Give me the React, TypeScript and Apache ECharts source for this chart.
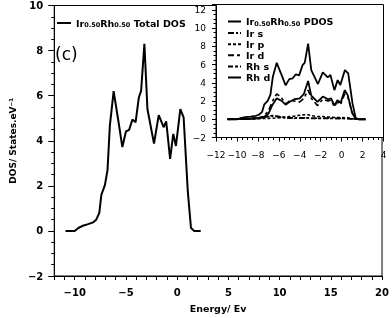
import React, { useEffect, useRef } from "react";
import * as echarts from "echarts";

// Main panel: total DOS
const energy = [-10.9, -10.0, -9.65, -9.2, -8.7, -8.2, -7.9, -7.6, -7.4, -7.05, -6.8, -6.57, -6.2, -5.72, -5.35, -5.0, -4.69, -4.37, -4.06, -3.74, -3.52, -3.2, -2.9, -2.26, -1.8, -1.32, -1.07, -0.69, -0.38, -0.12, 0.31, 0.63, 1.04, 1.35, 1.67, 2.3];
const totalDos = [0, 0, 0.13, 0.23, 0.3, 0.38, 0.5, 0.8, 1.6, 2.04, 2.7, 4.67, 6.2, 4.82, 3.72, 4.41, 4.48, 4.94, 4.82, 5.92, 6.21, 8.3, 5.4, 3.87, 5.14, 4.6, 4.86, 3.2, 4.3, 3.77, 5.4, 5.04, 1.74, 0.13, 0, 0];

// Inset: partial DOS
const pdosEnergy = [-10.9, -10, -9, -8, -7.5, -7, -6.6, -6.2, -5.7, -5.35, -5, -4.5, -4, -3.6, -3.2, -2.9, -2.3, -1.8, -1.3, -1.0, -0.7, -0.4, -0.1, 0.3, 0.6, 1.0, 1.35, 1.7, 2.3];
const irS = [0, 0.02, 0.08, 0.15, 0.2, 0.3, 0.35, 0.3, 0.2, 0.15, 0.15, 0.15, 0.15, 0.15, 0.15, 0.12, 0.12, 0.12, 0.12, 0.12, 0.1, 0.1, 0.1, 0.1, 0.08, 0.05, 0.02, 0, 0];
const irP = [0, 0, 0.02, 0.05, 0.08, 0.1, 0.12, 0.15, 0.2, 0.25, 0.3, 0.35, 0.45, 0.5, 0.5, 0.4, 0.3, 0.3, 0.25, 0.25, 0.2, 0.2, 0.2, 0.15, 0.15, 0.08, 0.02, 0, 0];
const irD = [0, 0.02, 0.05, 0.15, 0.3, 0.9, 2.0, 2.8, 2.3, 1.7, 2.0, 2.0, 1.9, 2.3, 3.2, 2.3, 1.5, 2.2, 2.0, 2.1, 1.4, 1.9, 1.6, 2.8, 2.4, 0.8, 0.05, 0, 0];
const rhS = [0, 0.01, 0.06, 0.12, 0.25, 0.35, 0.4, 0.35, 0.25, 0.15, 0.12, 0.12, 0.12, 0.12, 0.15, 0.1, 0.1, 0.1, 0.1, 0.1, 0.08, 0.08, 0.08, 0.08, 0.06, 0.04, 0.01, 0, 0];
const rhD = [0, 0.01, 0.03, 0.1, 0.2, 0.6, 1.6, 2.3, 2.0, 1.6, 1.9, 2.2, 2.3, 2.8, 4.2, 2.6, 1.9, 2.5, 2.2, 2.3, 1.5, 2.1, 1.8, 3.2, 2.6, 0.7, 0.05, 0, 0];

const mainXTickLabels = [-10, -5, 0, 5, 10, 15, 20];
const mainLegend = ["Total DOS"];
const insetLegend = ["PDOS", "Ir s", "Ir p", "Ir d", "Rh s", "Rh d"];

const FONT = "DejaVu Sans";
const zip = (xs: number[], ys: number[]) => xs.map((x, i) => [x, ys[i]]);
const minus = (v: number) => String(v).replace("-", "\u2212");

export default function App() {
  const ref = useRef<HTMLDivElement>(null);
  useEffect(() => {
    if (!ref.current) return;
    const chart = echarts.init(ref.current, undefined, { renderer: "svg" });
    const axisLine = { show: true, onZero: false, lineStyle: { color: "#000", width: 1 } };
    const boldLabel = { color: "#000", fontFamily: FONT, fontWeight: "bold" as const, fontSize: 10 };
    const plainLabel = { color: "#000", fontFamily: FONT, fontSize: 9 };
    const rich = {
      b: { fontFamily: FONT, fontWeight: "bold", fontSize: 9.5, color: "#000", lineHeight: 11 },
      s: { fontFamily: FONT, fontWeight: "bold", fontSize: 6.5, color: "#000", verticalAlign: "bottom", lineHeight: 11 },
    };
    const legendFmt = (name: string) => {
      if (name === "Total DOS") return "{b|Ir}{s|0.50}{b|Rh}{s|0.50}{b| Total DOS}";
      if (name === "PDOS") return "{b|Ir}{s|0.50}{b|Rh}{s|0.50}{b| PDOS}";
      return "{b|" + name + "}";
    };
    const insetLine = (name: string, ys: number[], dash: any, width = 1.6) => ({
      type: "line",
      name,
      xAxisIndex: 1,
      yAxisIndex: 1,
      data: zip(pdosEnergy, ys),
      symbol: "none",
      z: 5,
      lineStyle: { color: "#000", width, type: dash },
      itemStyle: { color: "#000" },
    });
    chart.setOption({
      animation: false,
      textStyle: { fontFamily: FONT },
      grid: [
        { left: 40, right: 8.5, top: 5.5, bottom: 39.5, show: true, borderColor: "#000", borderWidth: 1, backgroundColor: "transparent" },
        { left: 216, right: 8.5, top: 4.5, bottom: 180.5, show: true, borderColor: "#000", borderWidth: 1, backgroundColor: "#fff", z: 3 },
      ],
      xAxis: [
        {
          type: "value", gridIndex: 0, min: -12, max: 20, interval: 1,
          axisLine, splitLine: { show: false },
          axisTick: { show: true, length: 4, lineStyle: { color: "#000" } },
          axisLabel: { ...boldLabel, margin: 11, formatter: (v: number) => (mainXTickLabels.includes(v) ? minus(v) : "") },
          name: "Energy/ Ev", nameLocation: "middle", nameGap: 27,
          nameTextStyle: { ...boldLabel, fontSize: 9.5 },
        },
        {
          type: "value", gridIndex: 1, min: -12, max: 4, interval: 2, z: 4,
          axisLine, splitLine: { show: false },
          axisTick: { show: true, length: 4, lineStyle: { color: "#000" } },
          minorTick: { show: true, splitNumber: 4, length: 2.5, lineStyle: { color: "#000" } },
          axisLabel: { ...plainLabel, margin: 13, formatter: (v: number) => minus(v) },
        },
      ],
      yAxis: [
        {
          type: "value", gridIndex: 0, min: -2, max: 10, interval: 2,
          axisLine, splitLine: { show: false },
          axisTick: { show: true, length: 6, lineStyle: { color: "#000" } },
          minorTick: { show: true, splitNumber: 4, length: 3, lineStyle: { color: "#000" } },
          axisLabel: { ...boldLabel, margin: 11, formatter: (v: number) => minus(v) },
          name: "DOS/ States.eV\u207B\u00B9", nameLocation: "middle", nameGap: 27,
          nameTextStyle: { ...boldLabel, fontSize: 9 },
        },
        {
          type: "value", gridIndex: 1, min: -2, max: 12.6, interval: 2, z: 4,
          axisLine, splitLine: { show: false },
          axisTick: { show: true, length: 4, lineStyle: { color: "#000" } },
          minorTick: { show: true, splitNumber: 4, length: 2.5, lineStyle: { color: "#000" } },
          axisLabel: { ...plainLabel, margin: 10, showMaxLabel: false, formatter: (v: number) => minus(v) },
        },
      ],
      legend: [
        {
          data: mainLegend, left: 51, top: 13, itemWidth: 14, itemHeight: 8, selectedMode: false,
          itemStyle: { opacity: 0 },
          formatter: legendFmt, textStyle: { rich },
        },
        {
          data: insetLegend, left: 222, top: 11.5, orient: "vertical", itemWidth: 13, itemHeight: 8, itemGap: 1.1,
          itemStyle: { opacity: 0 },
          selectedMode: false, formatter: legendFmt, textStyle: { rich }, z: 6,
        },
      ],
      graphic: [
        { type: "text", left: 55, top: 45, style: { text: "(c)", fontSize: 17, fontFamily: FONT, fill: "#000" } },
      ],
      series: [
        {
          type: "line", name: "Total DOS", xAxisIndex: 0, yAxisIndex: 0,
          data: zip(energy, totalDos), symbol: "none",
          lineStyle: { color: "#000", width: 2 }, itemStyle: { color: "#000" },
        },
        {
          type: "line", name: "PDOS", xAxisIndex: 1, yAxisIndex: 1,
          data: zip(energy, totalDos), symbol: "none", z: 5,
          lineStyle: { color: "#000", width: 1.8 }, itemStyle: { color: "#000" },
        },
        insetLine("Ir s", irS, [6, 2, 2, 2]),
        insetLine("Ir p", irP, [3, 2]),
        insetLine("Ir d", irD, [6, 3, 3, 3]),
        insetLine("Rh s", rhS, [5, 2, 3, 2]),
        insetLine("Rh d", rhD, "solid", 1.8),
      ],
    });
    return () => chart.dispose();
  }, []);
  return <div ref={ref} style={{ position: "fixed", left: 0, top: 0, width: 392, height: 318 }} />;
}
